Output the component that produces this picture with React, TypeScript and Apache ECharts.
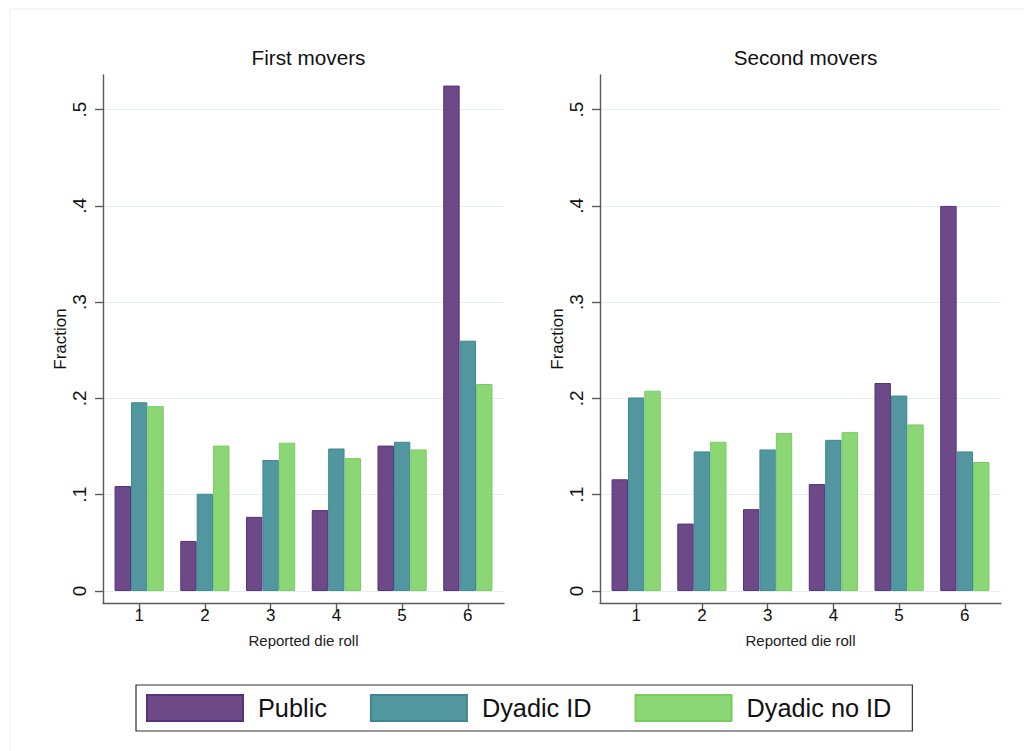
import React, { useEffect, useRef } from "react";
import * as echarts from "echarts";

const categories = [1, 2, 3, 4, 5, 6];
const firstPublic = [0.109, 0.052, 0.077, 0.084, 0.151, 0.525];
const firstDyadicID = [0.196, 0.101, 0.136, 0.148, 0.155, 0.26];
const firstDyadicNoID = [0.192, 0.151, 0.154, 0.138, 0.147, 0.215];
const secondPublic = [0.116, 0.07, 0.085, 0.111, 0.216, 0.4];
const secondDyadicID = [0.201, 0.145, 0.147, 0.157, 0.203, 0.145];
const secondDyadicNoID = [0.208, 0.155, 0.164, 0.165, 0.173, 0.134];
const yTicks = [0, 0.1, 0.2, 0.3, 0.4, 0.5];
const panelTitles = ["First movers", "Second movers"];
const seriesNames = ["Public", "Dyadic ID", "Dyadic no ID"];

const FONT = "'Liberation Sans', Arial, Helvetica, sans-serif";
const fills = ["#6d4a87", "#5296a0", "#8bd775"];
const borders = ["#54327c", "#3f8893", "#78cc60"];

export default function App() {
  const ref = useRef<HTMLDivElement>(null);
  useEffect(() => {
    if (!ref.current) return;
    const chart = echarts.init(ref.current, null, { renderer: "svg" });
    const gridLefts = [103, 600];
    const gridW = 401;
    const panels = [
      [firstPublic, firstDyadicID, firstDyadicNoID],
      [secondPublic, secondDyadicID, secondDyadicNoID],
    ];
    const axisColor = "#5a5a5a";
    const xAxes = gridLefts.map((_, i) => ({
      type: "value",
      gridIndex: i,
      min: 0.45,
      max: 6.55,
      axisLine: { show: true, onZero: false, lineStyle: { color: axisColor, width: 1.4 } },
      axisTick: { show: true, length: 8, customValues: categories, lineStyle: { color: axisColor, width: 1.4 } },
      axisLabel: { customValues: categories, fontSize: 17, color: "#111", fontFamily: FONT, margin: 4 },
      splitLine: { show: false },
      name: "Reported die roll",
      nameLocation: "middle",
      nameGap: 30,
      nameTextStyle: { fontSize: 15, color: "#222", fontFamily: FONT },
    }));
    const yAxes = gridLefts.map((_, i) => ({
      type: "value",
      gridIndex: i,
      min: -0.0125,
      max: 0.536,
      axisLine: { show: true, lineStyle: { color: axisColor, width: 1.4 } },
      axisTick: { show: true, length: 8, customValues: yTicks, lineStyle: { color: axisColor, width: 1.4 } },
      axisLabel: {
        customValues: yTicks,
        rotate: 90,
        fontSize: 19,
        color: "#111",
        fontFamily: FONT,
        margin: 14,
        formatter: (v: number) => (v === 0 ? "0" : "." + Math.round(v * 10)),
      },
      splitLine: { show: true, lineStyle: { color: "#e6eff0", width: 1 } },
      name: "Fraction",
      nameLocation: "middle",
      nameRotate: 90,
      nameGap: 32,
      nameTextStyle: { fontSize: 17, color: "#111", fontFamily: FONT },
    }));
    const series: any[] = [];
    panels.forEach((vals, p) => {
      vals.forEach((arr, s) => {
        series.push({
          type: "bar",
          name: seriesNames[s],
          xAxisIndex: p,
          yAxisIndex: p,
          barWidth: 16.4,
          barGap: "0%",
          itemStyle: { color: fills[s], borderColor: borders[s], borderWidth: 1 },
          data: categories.map((c, i) => [c, arr[i]]),
        });
      });
    });
    chart.setOption({
      animation: false,
      backgroundColor: "#ffffff",
      title: panelTitles.map((t, i) => ({
        text: t,
        left: gridLefts[i] + gridW / 2,
        top: 42,
        textAlign: "center",
        textStyle: { fontSize: 20.7, fontWeight: "normal", color: "#111", fontFamily: FONT },
      })),
      grid: gridLefts.map((l) => ({ left: l, top: 75, width: gridW, height: 528 })),
      xAxis: xAxes,
      yAxis: yAxes,
      legend: {
        data: seriesNames,
        left: 136,
        top: 685,
        orient: "horizontal",
        itemWidth: 96,
        itemHeight: 26,
        itemGap: 43,
        padding: [9, 21, 9, 10],
        borderColor: "#333",
        borderWidth: 1.2,
        borderRadius: 0,
        icon: "rect",
        selectedMode: false,
        textStyle: { fontSize: 25.3, color: "#111", fontFamily: FONT, padding: [0, 0, 0, 10] },
      },
      graphic: [
        {
          type: "rect",
          shape: { x: 10, y: 9, width: 1030, height: 760 },
          style: { fill: "none", stroke: "#efefef", lineWidth: 1 },
          silent: true,
        },
      ],
      series,
    });
    return () => chart.dispose();
  }, []);
  return (
    <div
      ref={ref}
      style={{ position: "fixed", left: 0, top: 0, width: 1024, height: 751, background: "#fff" }}
    />
  );
}
